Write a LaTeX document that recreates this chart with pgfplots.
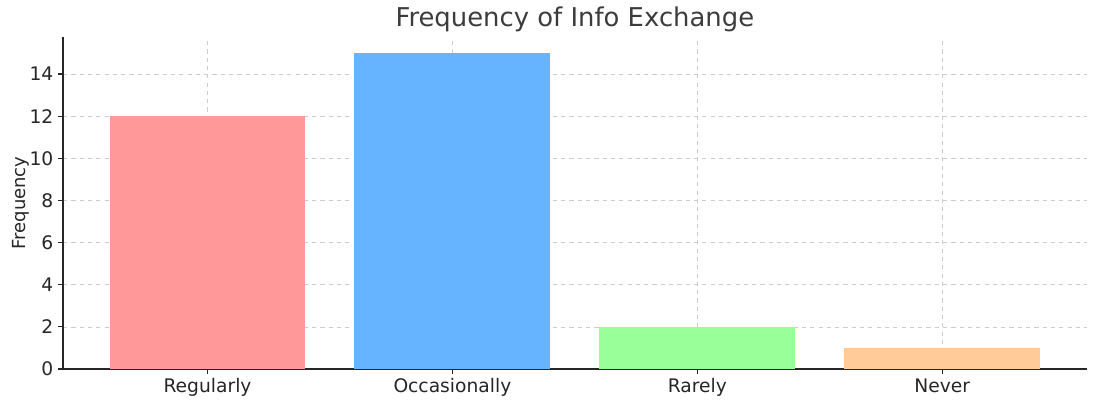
\documentclass[border=0pt]{standalone}
\usepackage{pgfplots}
\pgfplotsset{compat=1.18}
\usepackage{fontspec}
\setmainfont{DejaVu Sans}
\definecolor{c1}{HTML}{FF9999}
\definecolor{c2}{HTML}{66B3FF}
\definecolor{c3}{HTML}{99FF99}
\definecolor{c4}{HTML}{FFCC99}
\definecolor{txt}{HTML}{262626}
\definecolor{gridc}{HTML}{CCCCCC}
\begin{document}
\begin{tikzpicture}
\useasboundingbox (-45.4bp,-24.5bp) rectangle (741.6bp,265.7bp);
\begin{axis}[
  at={(0,0)}, anchor=south west,
  scale only axis, width=737bp, height=239bp,
  xmin=-0.59, xmax=3.59, ymin=0, ymax=15.75,
  xtick={0,1,2,3},
  xticklabels={Regularly,Occasionally,Rarely,Never},
  ytick={0,2,4,6,8,10,12,14},
  /pgf/number format/assume math mode=true,
  ticklabel style={font=\fontsize{13.5}{15}\selectfont, text=txt},
  axis x line*=bottom, axis y line*=left,
  axis line style={txt, line width=0.8pt, -},
  tick style={txt, line width=0.8pt},
  tick align=outside, major tick length=3.5bp,
  grid=major,
  major grid style={gridc, dashed, line width=0.5pt},
  ylabel={Frequency},
  ylabel style={font=\fontsize{13}{15}\selectfont, text=txt, at={(axis description cs:-0.028,0.5)}, anchor=south},
  title={Frequency of Info Exchange},
  title style={font=\fontsize{18.7}{20}\selectfont, text=txt!90, yshift=-6bp},
  ybar, bar width=0.8, bar shift=0pt,
]
\addplot[fill=c1, draw=none] coordinates {(0,12)};
\addplot[fill=c2, draw=none] coordinates {(1,15)};
\addplot[fill=c3, draw=none] coordinates {(2,2)};
\addplot[fill=c4, draw=none] coordinates {(3,1)};
\end{axis}
\end{tikzpicture}
\end{document}
